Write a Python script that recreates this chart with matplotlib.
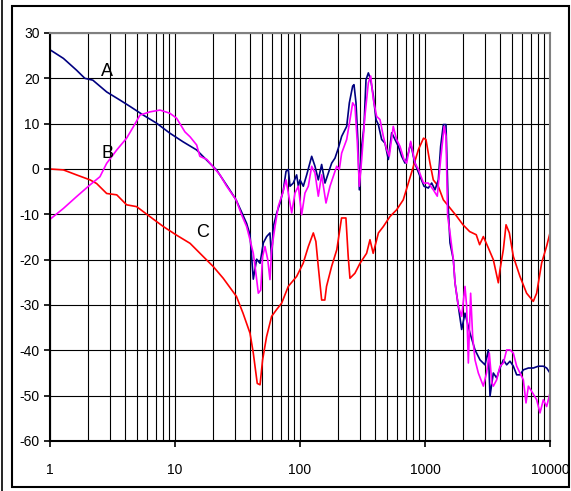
import numpy as np
import matplotlib.pyplot as plt
from matplotlib.patches import Rectangle
from matplotlib.lines import Line2D
from matplotlib.ticker import FixedLocator, NullFormatter, LogLocator

plt.rcParams["axes.unicode_minus"] = False

# Curve A (navy)
a_f = [1, 1.28, 1.63, 1.9, 2.2, 2.84, 3.63, 4.37, 5.57, 7.13, 9.1, 11.6, 14.9, 19, 21.5, 27.4,
       30.8, 34.1, 37.4, 39.8, 42.3, 45.0, 47.9, 50.9, 54.1, 57.5, 59.3, 61.2, 65.1, 69.2, 73.6,
       77.3, 80.6, 83.2, 88.4, 94.0, 97.0, 100, 106.3, 113.1, 124.0, 131.8, 140.1, 149.0, 158.5,
       168.5, 179.2, 190.5, 202.6, 215.4, 236.3, 248.2, 263.9, 270.4, 280.5, 291.1, 298.4, 311.5,
       325.1, 337.3, 352.2, 367.7, 386.2, 405.5, 423.3, 450.1, 478.6, 508.9, 541.2, 575.4, 611.9,
       650.6, 691.8, 735.6, 768.0, 806.6, 847.2, 912.0, 981.8, 1063, 1131, 1202, 1278, 1334, 1402,
       1472, 1537, 1585, 1686, 1738, 1848, 1965, 2089, 2291, 2512, 2754, 3020, 3211, 3311, 3521,
       3745, 3981, 4234, 4501, 4786, 5089, 5412, 5754, 6119, 6714, 7356, 8066, 8845, 9404, 10000]
a_v = [26.3, 24.4, 21.8, 20.0, 19.6, 17.0, 15.2, 13.8, 11.9, 10.1, 7.9, 6.0, 4.2, 1.25, -0.2, -4.6,
       -6.8, -9.5, -12.0, -14.5, -24.3, -19.9, -20.8, -16.3, -14.9, -14.1, -19.9, -12.7, -9.7, -7.5, -4.6,
       -0.5, -0.1, -3.8, -3.1, -1.3, -3.8, -2.4, -3.8, -1.3, 2.8, 0.6, -2.4, 1.0, -3.1,
       -0.9, 1.3, 2.4, 4.6, 7.2, 9.4, 14.6, 18.3, 18.6, 14.6, 5.7, -4.6, 5.0,
       9.4, 19.7, 21.2, 19.7, 16.1, 10.9, 9.8, 6.5, 5.7, 2.1, 8.0, 6.5, 5.0,
       2.8, 1.3, 3.5, 5.7, 2.8, 0.6, -1.6, -3.8, -4.2, -3.1, -4.6, -2.4, 5.0, 9.8,
       9.8, -9.0, -16.3, -20.0, -25.1, -30.3, -35.4, -31.8, -36.2, -39.9, -42.1, -43.2, -39.9, -50.1, -45.0,
       -46.1, -43.9, -42.1, -43.2, -42.4, -43.5, -45.4, -45.4, -44.3, -43.9, -43.9, -43.5, -43.5, -43.9, -45.0]

# Curve B (magenta)
b_f = [1, 1.28, 1.63, 2.09, 2.51, 2.84, 3.42, 4.1, 4.64, 5.25, 6.3, 7.58, 9.1, 10.3, 12, 13.2, 14.9,
       15.8, 18.0, 20.0, 22.9, 25.9, 30.8, 34.1, 37.4, 39.8, 42.3, 44.4, 46.4, 48.5, 50.2, 52.5, 55.2,
       57.5, 59.3, 63.1, 67.1, 72.7, 77.3, 80.6, 85.8, 91.2, 97.0, 103.1, 109.6, 116.6, 124.0, 131.8,
       140.1, 149.0, 161.4, 173.8, 184.8, 196.6, 206.4, 215.4, 236.3, 251.2, 263.9, 275.4, 287.5,
       298.4, 311.5, 330.3, 352.2, 367.7, 386.2, 410.5, 436.5, 464.2, 493.4, 518.1, 557.2, 592.5,
       630.9, 678.8, 713.2, 768.0, 831.8, 886.0, 972.5, 1063, 1166, 1254, 1334, 1423, 1472, 1517,
       1585, 1686, 1738, 1848, 1965, 2089, 2154, 2222, 2318, 2405, 2512, 2671, 2929, 3107, 3270,
       3427, 3521, 3745, 3981, 4234, 4501, 4786, 5089, 5412, 5754, 6119, 6427, 6714, 7262, 7819,
       8318, 8845, 9404, 10000]
b_v = [-11.1, -8.7, -6.1, -3.5, -1.7, 1.25, 4.2, 6.8, 9.3, 11.9, 12.6, 13.0, 12.3, 11.2, 8.2, 7.1, 5.3,
       2.8, 2.1, 0.6, -1.3, -3.8, -6.8, -10.1, -12.7, -15.6, -18.6, -23.0, -27.4, -26.7, -19.3, -17.1, -20.0,
       -24.4, -17.8, -12.7, -8.2, -5.3, -2.4, -5.3, -9.7, -5.3, -3.8, -10.1, -5.3, -3.8, 0.6, -0.9,
       -6.0, -1.3, -7.5, -3.8, -1.6, 0.6, -0.1, 3.5, 6.5, 10.9, 14.6, 13.8, 5.7,
       -3.8, 2.1, 11.6, 19.0, 20.5, 15.3, 11.6, 10.9, 7.2, 4.3, 2.8, 9.4, 6.5,
       5.0, 2.1, 1.3, 6.1, 1.3, -0.1, -3.1, -3.1, -4.6, -6.0, 2.1, 9.4, 7.2, -10.4,
       -14.1, -20.0, -25.1, -30.3, -32.5, -25.9, -30.3, -42.8, -27.4, -36.9, -42.1, -45.0, -47.9, -45.0, -40.6,
       -47.2, -47.9, -46.5, -43.5, -42.8, -39.9, -39.9, -40.6, -43.5, -45.0, -46.5, -51.6, -47.9, -49.4, -50.9,
       -53.8, -50.9, -52.4, -49.4]

# Curve C (red)
c_f = [1, 1.28, 1.63, 2.09, 2.36, 2.84, 3.42, 4.1, 4.93, 6.3, 8.07, 10.3, 13.2, 16.8, 20.2, 24.3,
       31, 35, 39.8, 42.3, 45.5, 47.9, 50.2, 54, 59.3, 65, 71.3, 80.6, 94, 106, 116.6, 127.8, 134,
       140, 149, 158, 163, 179, 197, 215, 233, 243, 251, 275, 302, 341, 363, 385, 424, 464, 524,
       593, 670, 736, 808, 886, 973, 1018, 1096, 1165, 1276, 1402, 1585, 1790, 2013, 2276, 2570,
       2735, 2929, 3210, 3520, 3860, 3981, 4234, 4450, 4730, 5090, 5750, 6500, 7350, 7819, 8580,
       9404, 10000]
c_v = [0.0, -0.2, -1.3, -2.4, -3.2, -5.4, -5.7, -7.9, -8.3, -10.5, -12.7, -14.6, -16.4, -19.3, -21.5, -24.1,
       -28.1, -31.8, -36.2, -40.6, -47.3, -47.6, -42.1, -37.0, -32.5, -31.0, -29.6, -25.9, -23.7, -20.8, -17.1, -14.1, -16.0,
       -21.5, -28.9, -28.9, -25.9, -21.5, -17.8, -10.8, -10.8, -19.3, -24.1, -23.0, -20.8, -18.6, -15.6, -18.6, -14.1, -12.7, -10.5,
       -9.0, -6.8, -3.1, 0.6, 4.3, 6.8, 6.5, 1.3, -2.4, -3.8, -6.8, -8.6, -10.4, -12.3, -13.8, -14.5,
       -16.7, -14.9, -17.4, -20.0, -25.1, -22.2, -17.8, -12.3, -14.1, -19.3, -23.7, -27.4, -29.2, -27.4, -20.7,
       -17.0, -14.1]

x_ticks = [1, 10, 100, 1000, 10000]
x_labels = ["1", "10", "100", "1000", "10000"]
y_ticks = [-60, -50, -40, -30, -20, -10, 0, 10, 20, 30]

W, H = 571, 491
fig = plt.figure(figsize=(W / 100, H / 100), dpi=100)
ax = fig.add_axes([50 / W, 1 - 441 / H, 500 / W, 408 / H])

ax.plot(c_f, c_v, color="#ff0000", lw=1.2)
ax.plot(a_f, a_v, color="#000080", lw=1.2)
ax.plot(b_f, b_v, color="#ff00ff", lw=1.2)

ax.set_xscale("log")
ax.set_xlim(1, 10000)
ax.set_ylim(-60, 30)
ax.xaxis.set_major_locator(FixedLocator(x_ticks))
ax.xaxis.set_minor_locator(LogLocator(base=10, subs=np.arange(2, 10)))
ax.xaxis.set_minor_formatter(NullFormatter())
ax.set_xticks(x_ticks, x_labels)
ax.set_yticks(y_ticks)
ax.tick_params(axis="x", which="minor", length=0)
ax.tick_params(which="major", length=4, width=1.2, color="black", labelsize=10, direction="out")
ax.tick_params(axis="x", pad=12)

ax.grid(True, which="both", axis="x", color="black", lw=0.8)
ax.grid(True, which="major", axis="y", color="black", lw=0.8)

for lbl in ax.get_xticklabels() + ax.get_yticklabels():
    lbl.set_family(["Liberation Sans Narrow", "Liberation Sans", "DejaVu Sans"])

ax.spines["left"].set_linewidth(1.5)
ax.spines["bottom"].set_linewidth(1.5)
ax.spines["top"].set_color("#808080")
ax.spines["right"].set_color("#808080")
ax.spines["top"].set_linewidth(1.5)
ax.spines["right"].set_linewidth(1.5)

lab_font = dict(fontsize=13, family=["Liberation Sans", "DejaVu Sans"], ha="center", va="center")
ax.text(2.86, 21.4, "A", **lab_font)
ax.text(2.86, 3.5, "B", **lab_font)
ax.text(16.7, -14.1, "C", **lab_font)

# outer frame
fig.add_artist(Rectangle((12 / W, 1 - 487 / H), 557 / W, 481 / H, transform=fig.transFigure,
                         fill=False, edgecolor="black", lw=1.5))
fig.add_artist(Line2D([2 / W, 2 / W], [0, 1], transform=fig.transFigure, color="black", lw=1.2))

fig.savefig("out.png", dpi=100)
